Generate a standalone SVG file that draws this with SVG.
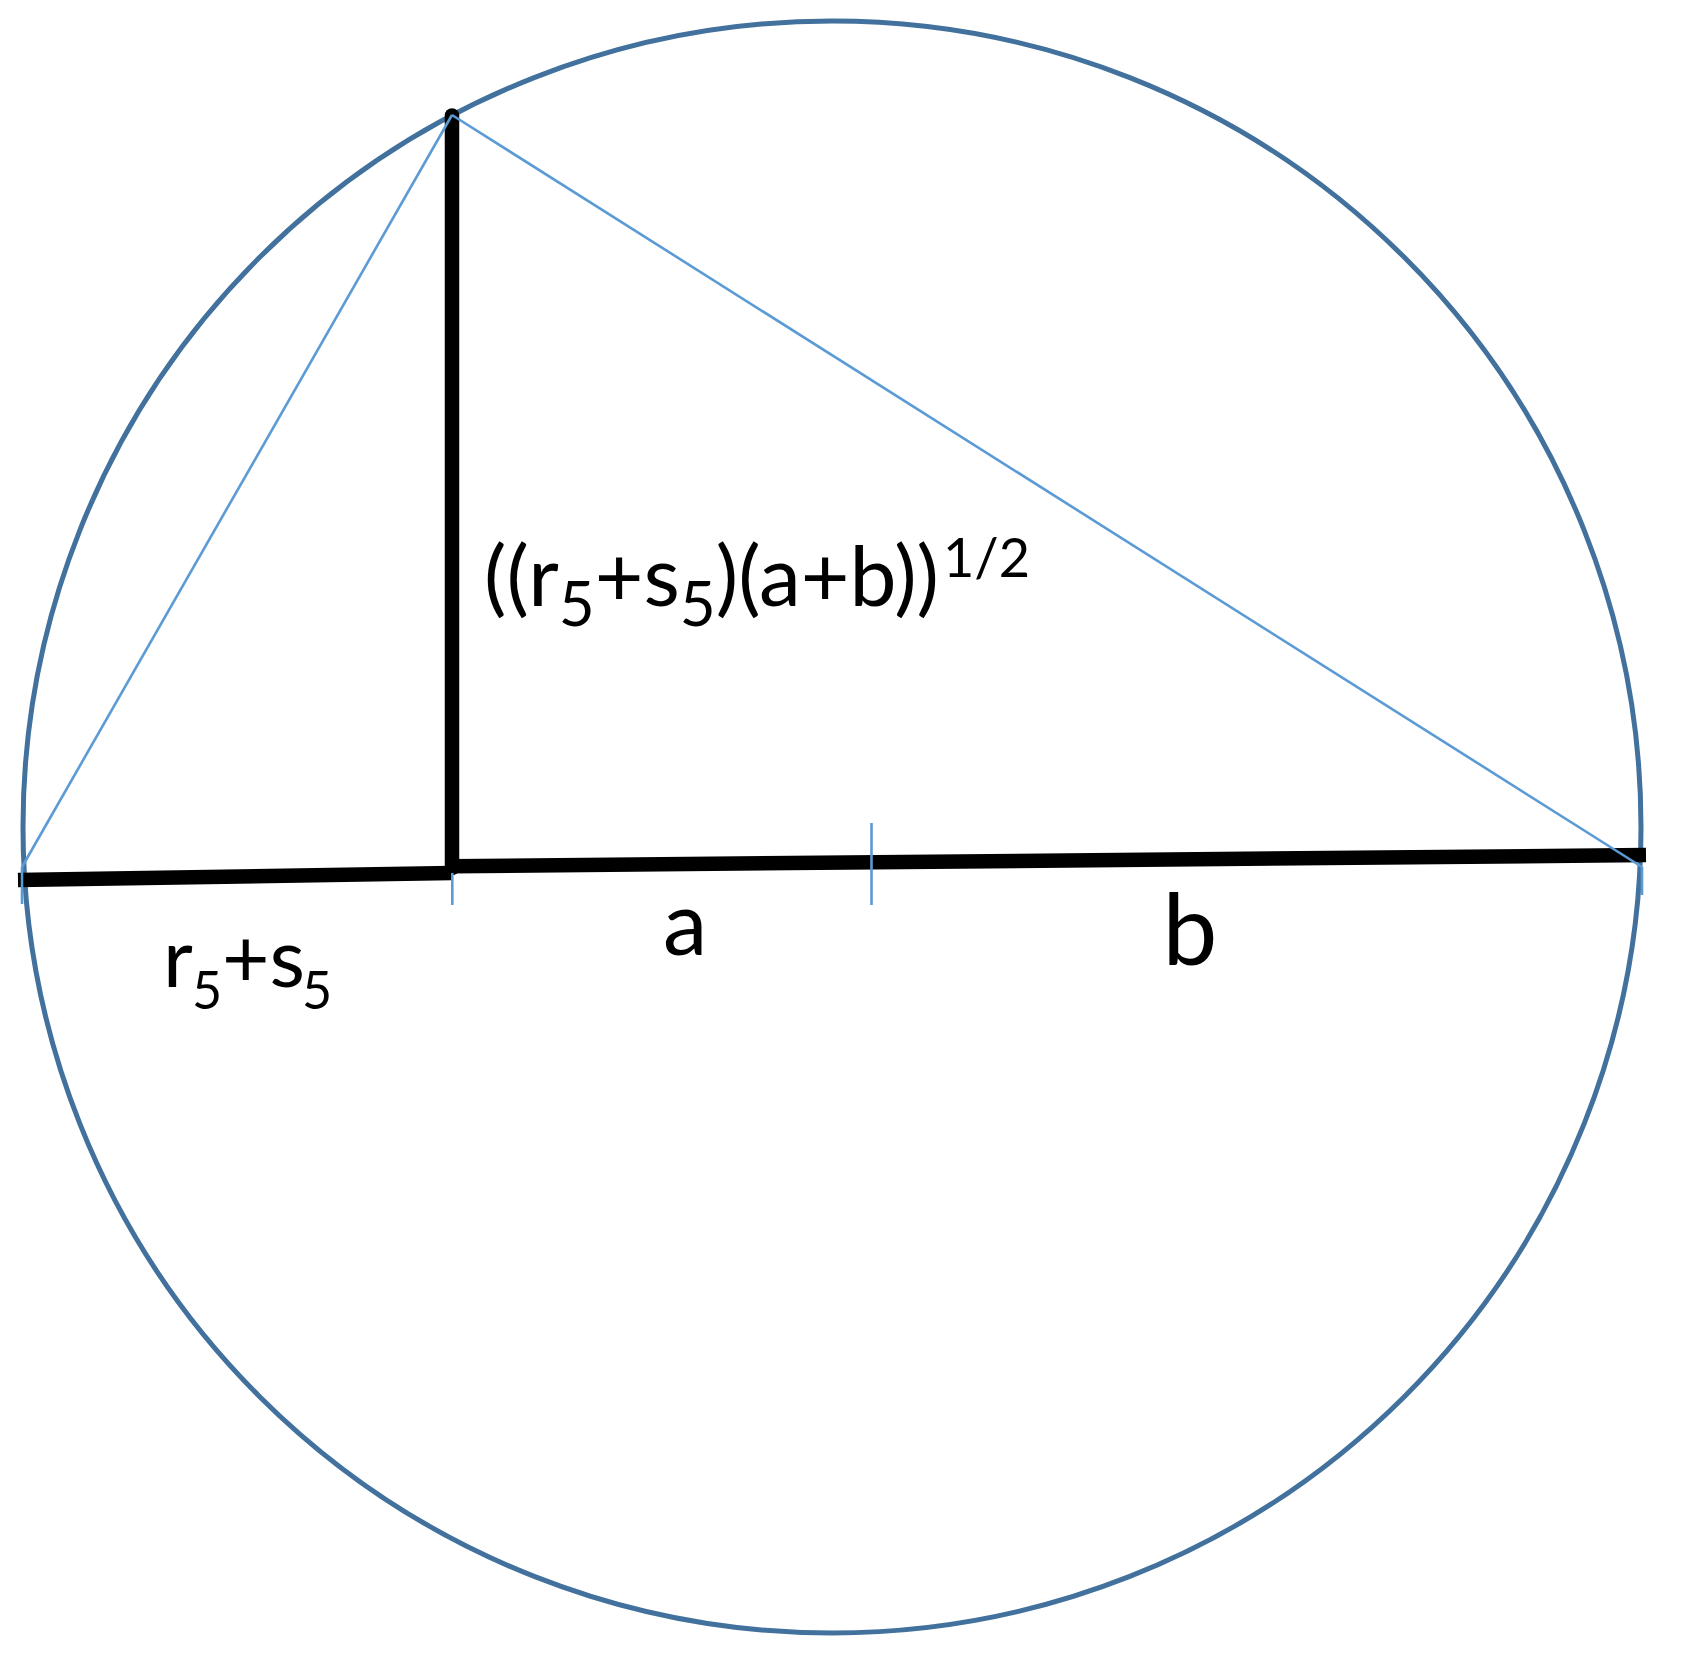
<svg xmlns="http://www.w3.org/2000/svg" width="1682" height="1658" viewBox="0 0 1682 1658">
<style>
.circ{fill:none;stroke:#41719c;stroke-width:5}
.blk{stroke:#000;stroke-width:14.5;fill:none}
.blu{stroke:#5b9bd5;stroke-width:2.6;fill:none}
text{font-family:Lato,"Open Sans","DejaVu Sans",sans-serif;fill:#000}
.main{font-size:84px}
.sub{font-size:62px}
.sup{font-size:54px}
</style>
<rect width="1682" height="1658" fill="#ffffff"/>
<g id="circle">
<ellipse class="circ" cx="832" cy="827" rx="809" ry="806"/>
</g>
<g id="connectors">
<line class="blk" x1="452" y1="115.5" x2="452" y2="868" stroke-linecap="round"/>
<line class="blk" x1="18" y1="880" x2="452" y2="873"/>
<line class="blk" x1="452" y1="866.3" x2="1646" y2="855"/>
<line class="blu" x1="452" y1="115" x2="22" y2="867"/>
<line class="blu" x1="452" y1="115" x2="1642" y2="867"/>
<line class="blu" x1="22" y1="867" x2="22" y2="904"/>
<line class="blu" x1="452.3" y1="873" x2="452.3" y2="905"/>
<line class="blu" x1="871.5" y1="823" x2="871.5" y2="905"/>
<line class="blu" x1="1642" y1="867" x2="1642" y2="895"/>
</g>
<g id="label-height">
<text class="main" x="484" y="606">((r<tspan class="sub" dy="20">5</tspan><tspan dy="-20">+s</tspan><tspan class="sub" dy="20">5</tspan><tspan dy="-20">)(a+b))</tspan><tspan class="sup" dx="4" dy="-29">1/2</tspan></text>
</g>
<g id="label-rs">
<text font-size="82" y="987"><tspan x="163">r</tspan><tspan x="192" dy="22" font-size="52">5</tspan><tspan x="222" dy="-22">+s</tspan><tspan x="302" dy="22" font-size="52">5</tspan></text>
</g>
<g id="label-a">
<text font-size="89" x="685" y="955" text-anchor="middle">a</text>
</g>
<g id="label-b">
<text font-size="98" x="1190" y="965" text-anchor="middle">b</text>
</g>
</svg>
